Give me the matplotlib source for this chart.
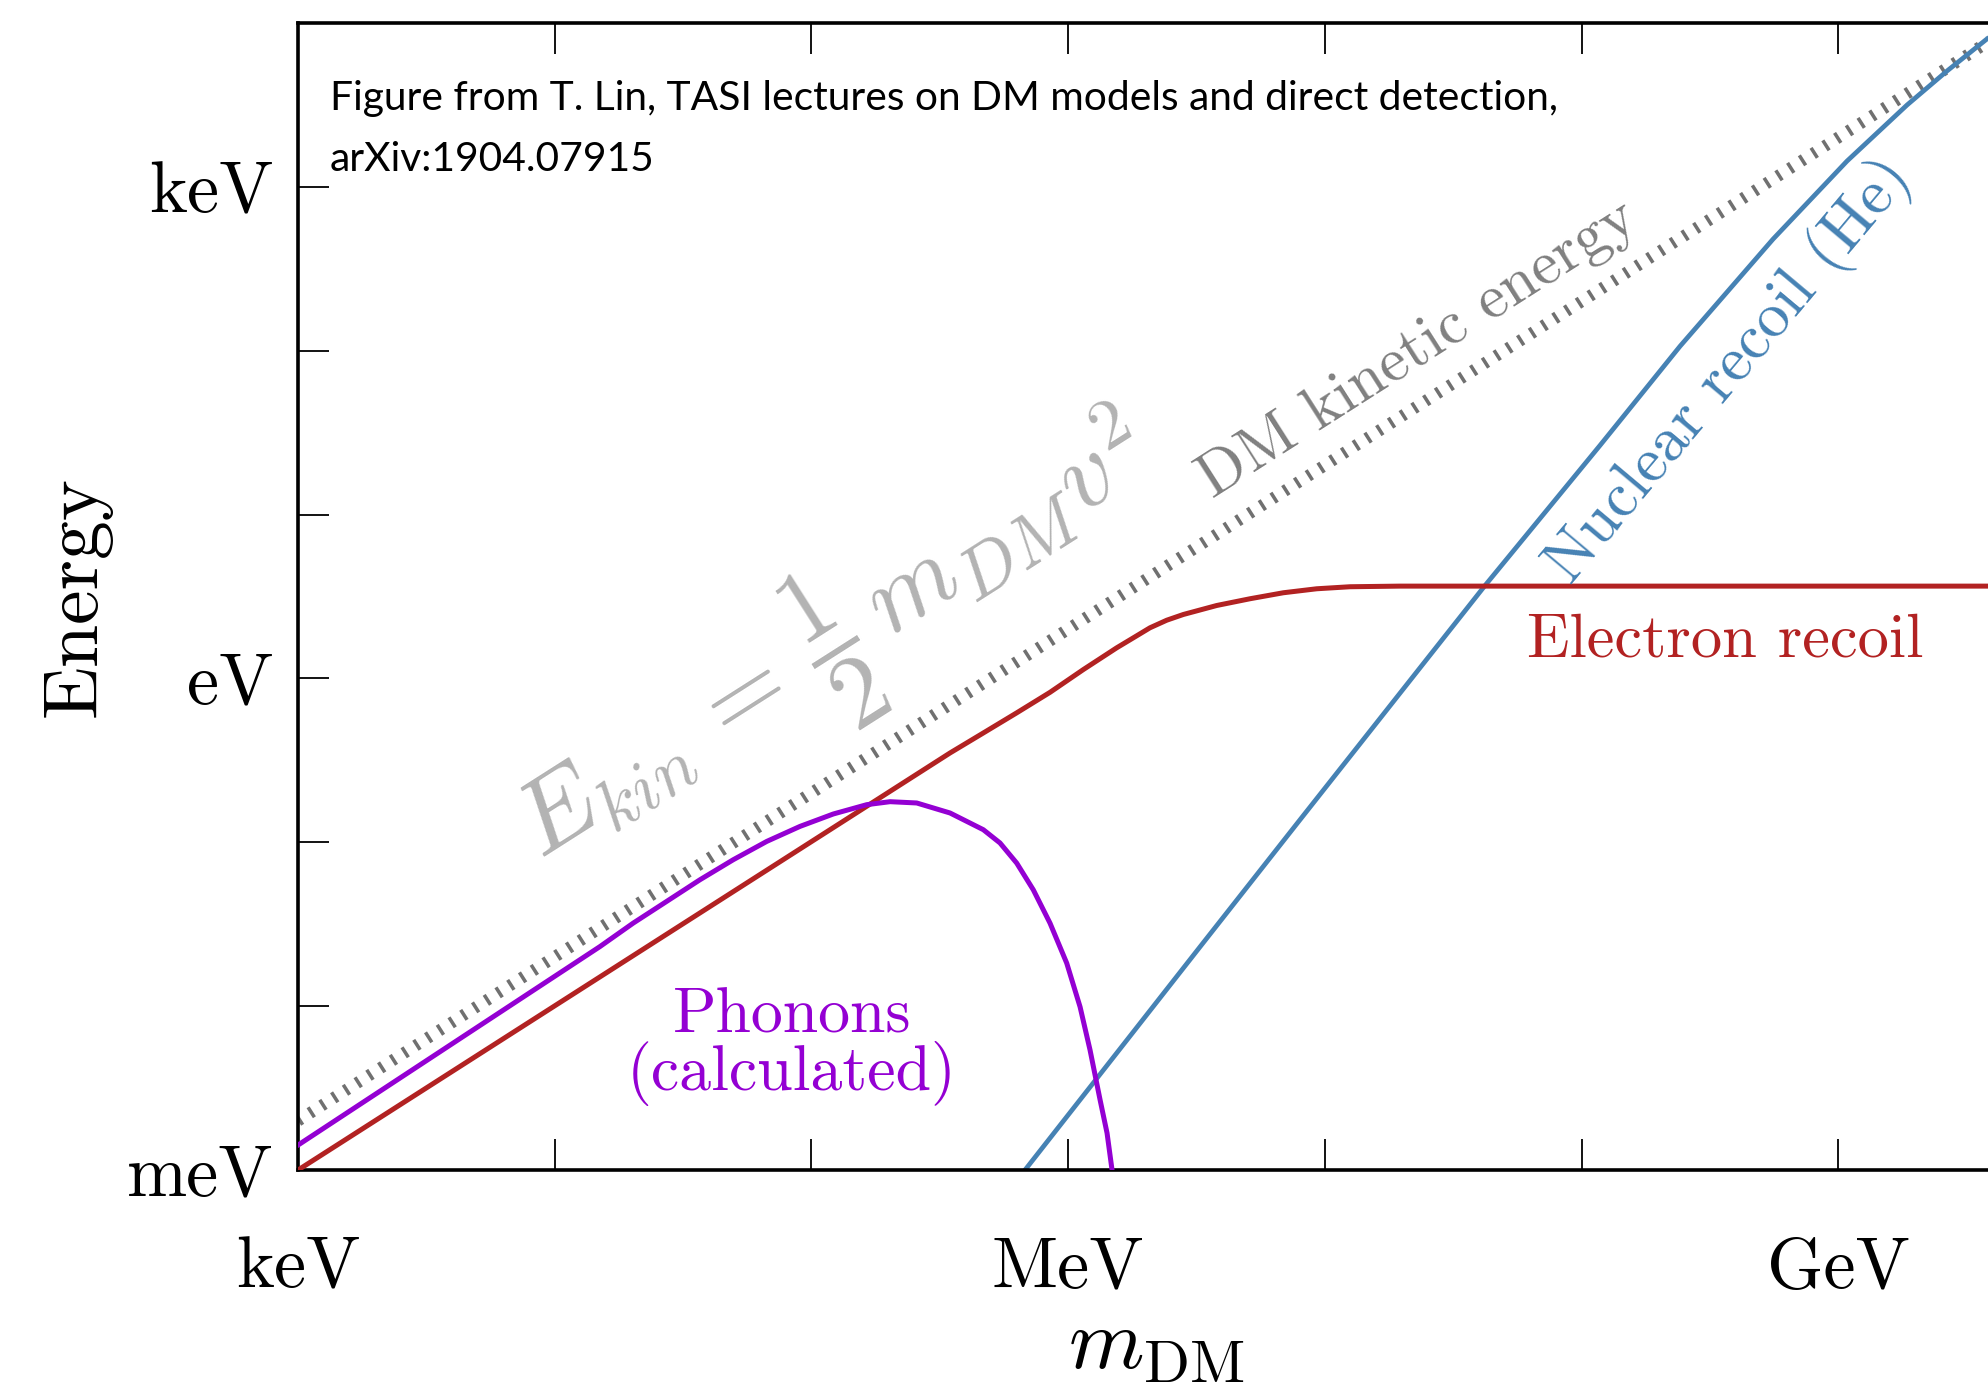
import matplotlib
matplotlib.use("Agg")
import matplotlib.pyplot as plt
from matplotlib.ticker import FixedLocator, NullLocator

plt.rcParams["mathtext.fontset"] = "cm"
plt.rcParams["font.family"] = "cmr10"
plt.rcParams["axes.unicode_minus"] = False

# DM mass (eV) and energy (eV)
m_kin = [1.0e3, 1.0e10]
e_kin = [2.0e-3, 2.0e4]

m_phonon = [1.0e3, 1.50e4, 2.02e4, 2.73e4, 3.68e4, 4.96e4, 6.70e4, 9.03e4,
            1.217e5, 1.642e5, 2.025e5, 2.572e5, 3.467e5, 4.673e5, 5.428e5,
            6.305e5, 7.317e5, 8.502e5, 9.874e5, 1.113e6, 1.217e6, 1.332e6,
            1.418e6, 1.483e6]
e_phonon = [1.42e-3, 0.0231, 0.0321, 0.0436, 0.0591, 0.0783, 0.1013, 0.1251,
            0.1489, 0.1697, 0.1770, 0.1738, 0.1510, 0.1194, 0.0991,
            0.0747, 0.0513, 0.0321, 0.01832, 0.00991, 0.00541, 0.00268,
            0.00168, 1.0e-3]

m_electron = [1.0e3, 3.467e5, 4.675e5, 6.307e5, 8.502e5, 1.146e6, 1.546e6,
              1.795e6, 2.084e6, 2.422e6, 2.811e6, 3.793e6, 5.113e6, 6.893e6,
              9.298e6, 1.254e7, 1.963e7, 1.0e10]
e_electron = [1.0e-3, 0.351, 0.465, 0.617, 0.823, 1.133, 1.538,
              1.770, 2.038, 2.267, 2.457, 2.788, 3.065, 3.334,
              3.526, 3.628, 3.66, 3.66]

m_nuclear = [6.79e5, 3.265e6, 8.007e6, 4.209e7, 1.181e8, 2.419e8, 5.572e8,
             1.082e9, 1.854e9, 2.654e9, 3.799e9]
e_nuclear = [1.0e-3, 0.02303, 0.1374, 3.694, 26.47, 106.5, 479.8,
             1437, 3160, 5098, 8000]

x_ticks = [1e3, 1e4, 1e5, 1e6, 1e7, 1e8, 1e9, 1e10]
x_labels = ["keV", "", "", "MeV", "", "", "GeV", ""]
y_ticks = [1e-3, 1e-2, 1e-1, 1e0, 1e1, 1e2, 1e3, 1e4]
y_labels = ["meV", "", "", "eV", "", "", "keV", ""]

fig = plt.figure(figsize=(19.88, 13.85), dpi=100)
ax = fig.add_axes([0.1499, 0.1552, 0.9039, 0.8282])
ax.set_xscale("log")
ax.set_yscale("log")

ax.plot(m_kin, e_kin, color="#707070", lw=8.5, linestyle=(0, (0.3, 0.88)),
        dash_capstyle="butt", zorder=1)
ax.plot(m_nuclear, e_nuclear, color="#4682b4", lw=3.4, zorder=2)
ax.plot(m_electron, e_electron, color="#b22222", lw=3.6, zorder=3)
ax.plot(m_phonon, e_phonon, color="#9400d3", lw=3.6, zorder=4)

ax.set_xlim(1e3, 1e10)
ax.set_ylim(1e-3, 1e4)

ax.xaxis.set_major_locator(FixedLocator(x_ticks))
ax.yaxis.set_major_locator(FixedLocator(y_ticks))
ax.xaxis.set_minor_locator(NullLocator())
ax.yaxis.set_minor_locator(NullLocator())
ax.set_xticklabels(x_labels)
ax.set_yticklabels(y_labels)
ax.tick_params(which="major", direction="in", length=22, width=1.3,
               top=True, right=True, labelsize=52)
ax.tick_params(axis="x", pad=48)
ax.tick_params(axis="y", pad=18)
for sp in ax.spines.values():
    sp.set_linewidth(2.6)

ax.set_ylabel("Energy", fontsize=56)
ax.yaxis.set_label_coords(-0.1035, 0.5)
ax.text(0.4775, -0.1726, r"$m_{\rm DM}$", fontsize=62, ha="center",
        va="baseline", transform=ax.transAxes)

ax.text(0.0178, 0.950,
        "Figure from T. Lin, TASI lectures on DM models and direct detection,\narXiv:1904.07915",
        family="Lato", fontsize=29.3, ha="left", va="top", linespacing=1.8,
        transform=ax.transAxes)

ax.text(0.300, 0.457, r"$E_{kin}\, =\, \dfrac{1}{2}\, m_{DM} v^2$", fontsize=74,
        color="#b3b3b3", rotation=32.5, rotation_mode="anchor",
        ha="center", va="center", transform=ax.transAxes)
ax.text(0.623, 0.7158, "DM kinetic energy", fontsize=45, color="#808080",
        rotation=32.5, rotation_mode="anchor", ha="center", va="center",
        transform=ax.transAxes)
ax.text(0.7963, 0.696, "Nuclear recoil (He)", fontsize=46, color="#4682b4",
        rotation=50, rotation_mode="anchor", ha="center", va="center",
        transform=ax.transAxes)
ax.text(0.6839, 0.4473, "Electron recoil", fontsize=45, color="#b22222",
        ha="left", va="baseline", transform=ax.transAxes)
ax.text(0.2749, 0.1203, "Phonons", fontsize=46, color="#9400d3",
        ha="center", va="baseline", transform=ax.transAxes)
ax.text(0.2749, 0.0697, "(calculated)", fontsize=46, color="#9400d3",
        ha="center", va="baseline", transform=ax.transAxes)

fig.savefig("out.png", dpi=100)
